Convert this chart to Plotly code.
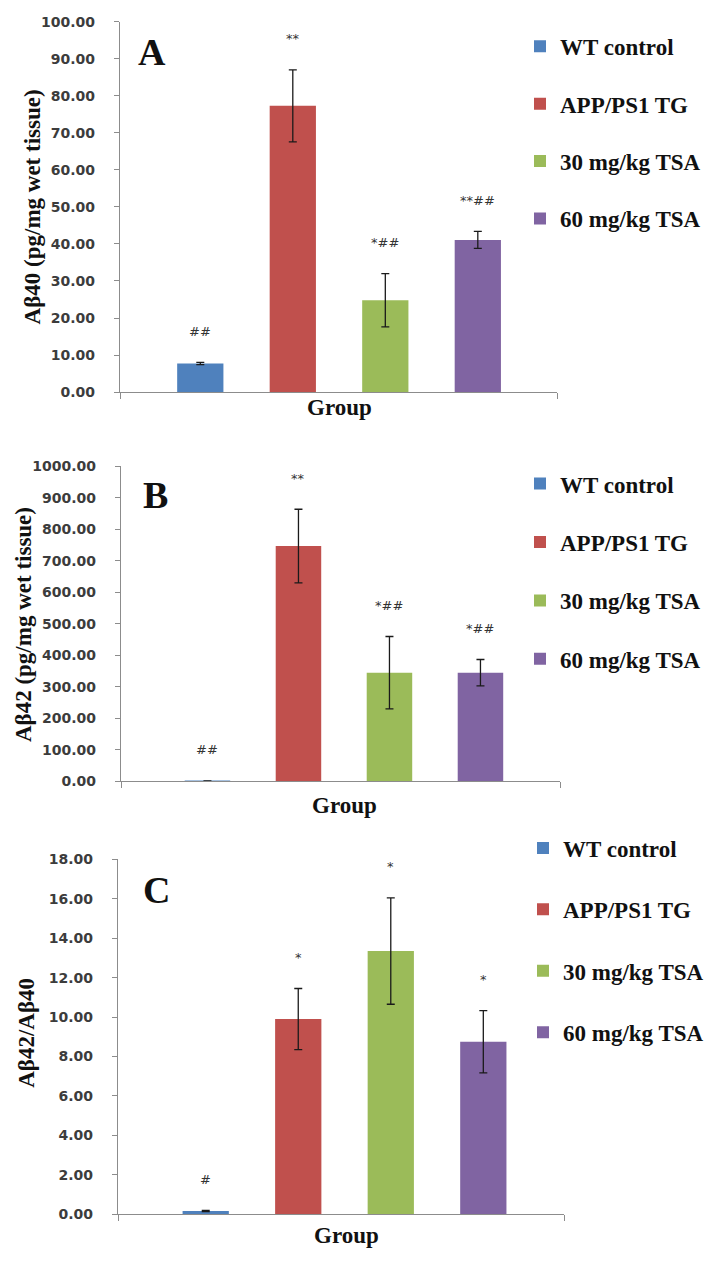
import plotly.graph_objects as go

W, H = 714, 1262

groups = ["WT control", "APP/PS1 TG", "30 mg/kg TSA", "60 mg/kg TSA"]
colors = ["#4F81BD", "#C0504D", "#9BBB59", "#8064A2"]

# Panel A: Abeta40
ab40_mean = [7.7, 77.3, 24.8, 41.1]
ab40_err = [0.3, 9.7, 7.2, 2.3]
ab40_marks = ["##", "**", "*##", "**##"]

# Panel B: Abeta42
ab42_mean = [1.2, 747.0, 345.0, 345.0]
ab42_err = [0.3, 117.0, 115.0, 42.0]
ab42_marks = ["##", "**", "*##", "*##"]

# Panel C: ratio
ratio_mean = [0.16, 9.9, 13.35, 8.75]
ratio_err = [0.03, 1.55, 2.7, 1.58]
ratio_marks = ["#", "*", "*", "*"]

SERIF = "Liberation Serif"
SANS = "DejaVu Sans"
AXIS_GREY = "#8c8c8c"


def px_x(x):
    return x / W


def px_y(y):
    return 1 - y / H


fig = go.Figure()

panels = [
    dict(key="", mean=ab40_mean, err=ab40_err, marks=ab40_marks,
         ymax=100, dtick=10, xdom=(120, 557), ydom=(389, 14), xr=(-0.868, 3.856),
         ytitle="Aβ40 (pg/mg wet tissue)", ytitle_pos=(32, 202),
         letter="A", letter_pos=(152, 45), group_pos=(339, 405),
         legend_pos=(520, 17), legend_gap=24.5),
    dict(key="2", mean=ab42_mean, err=ab42_err, marks=ab42_marks,
         ymax=1000, dtick=100, xdom=(121, 560), ydom=(783.3, 464.3), xr=(-0.95, 3.874),
         ytitle="Aβ42 (pg/mg wet tissue)", ytitle_pos=(23, 625),
         letter="B", letter_pos=(155, 493), group_pos=(344, 808),
         legend_pos=(520, 460), legend_gap=25.5),
    dict(key="3", mean=ratio_mean, err=ratio_err, marks=ratio_marks,
         ymax=18, dtick=2, xdom=(118, 564), ydom=(1221.7, 862.3), xr=(-0.948, 3.872),
         ytitle="Aβ42/Aβ40", ytitle_pos=(27, 1038),
         letter="C", letter_pos=(156, 893), group_pos=(346, 1243),
         legend_pos=(523, 829), legend_gap=28.5),
]

annotations = []
layout_axes = {}

for p in panels:
    k = p["key"]
    legend_name = "legend" + k
    for i, g in enumerate(groups):
        fig.add_trace(go.Bar(
            x=[i],
            y=[p["mean"][i]],
            width=0.5,
            name=g,
            marker=dict(color=colors[i], line=dict(width=0)),
            error_y=dict(type="data", array=[p["err"][i]], color="#1a1a1a",
                         thickness=1.3, width=4),
            xaxis="x" + k,
            yaxis="y" + k,
            legend=legend_name,
            legendgroup=f"{legend_name}_{i}",
            hoverinfo="skip",
        ))
        # significance marks above the error bars
        annotations.append(dict(
            x=i, y=p["mean"][i] + p["err"][i], xref="x" + k, yref="y" + k,
            text=p["marks"][i], showarrow=False, yshift=31, yanchor="middle",
            font=dict(family=SANS, size=13, color="#333333"),
        ))

    layout_axes["xaxis" + k] = dict(
        domain=[px_x(p["xdom"][0]), px_x(p["xdom"][1])],
        range=list(p["xr"]), anchor="y" + k,
        showline=True, linecolor=AXIS_GREY, linewidth=1.2,
        tickvals=list(p["xr"]), ticktext=["", ""], ticks="outside",
        ticklen=6, tickcolor=AXIS_GREY, showgrid=False, zeroline=False,
        fixedrange=True,
    )
    layout_axes["yaxis" + k] = dict(
        domain=[px_y(p["ydom"][0]), px_y(p["ydom"][1])],
        range=[0, p["ymax"]], dtick=p["dtick"], tick0=0, anchor="x" + k,
        tickformat=".2f", showline=True, linecolor=AXIS_GREY, linewidth=1.2,
        ticks="outside", ticklen=5, tickcolor=AXIS_GREY, showgrid=False,
        zeroline=False, ticklabelstandoff=16,
        tickfont=dict(family=SANS, size=14, color="#3c3c3c", weight="bold"),
    )
    layout_axes[legend_name] = dict(
        x=px_x(p["legend_pos"][0]), y=px_y(p["legend_pos"][1]),
        xanchor="left", yanchor="top", traceorder="grouped",
        tracegroupgap=p["legend_gap"], bgcolor="rgba(0,0,0,0)",
        font=dict(family=SERIF, size=23, color="#111111", weight="bold"),
        itemwidth=30,
    )

    annotations.append(dict(
        x=px_x(p["ytitle_pos"][0]), y=px_y(p["ytitle_pos"][1]),
        xref="paper", yref="paper", text=p["ytitle"], textangle=-90,
        showarrow=False, xanchor="center", yanchor="middle",
        font=dict(family=SERIF, size=23, color="#111111", weight="bold"),
    ))
    annotations.append(dict(
        x=px_x(p["letter_pos"][0]), y=px_y(p["letter_pos"][1]),
        xref="paper", yref="paper", text=p["letter"], showarrow=False,
        xanchor="center", yanchor="middle",
        font=dict(family=SERIF, size=38, color="#111111", weight="bold"),
    ))
    annotations.append(dict(
        x=px_x(p["group_pos"][0]), y=px_y(p["group_pos"][1]),
        xref="paper", yref="paper", text="Group", showarrow=False,
        xanchor="center", yanchor="middle",
        font=dict(family=SERIF, size=23, color="#111111", weight="bold"),
    ))

fig.update_layout(
    width=W,
    height=H,
    margin=dict(l=0, r=0, t=0, b=0),
    barmode="overlay",
    plot_bgcolor="white",
    paper_bgcolor="white",
    showlegend=True,
    annotations=annotations,
    **layout_axes,
)

# drop the browser's default body margin so the figure sits at the page corner
fig.write_html("out.html", config={"displayModeBar": False},
               post_script="document.body.style.margin='0';")
